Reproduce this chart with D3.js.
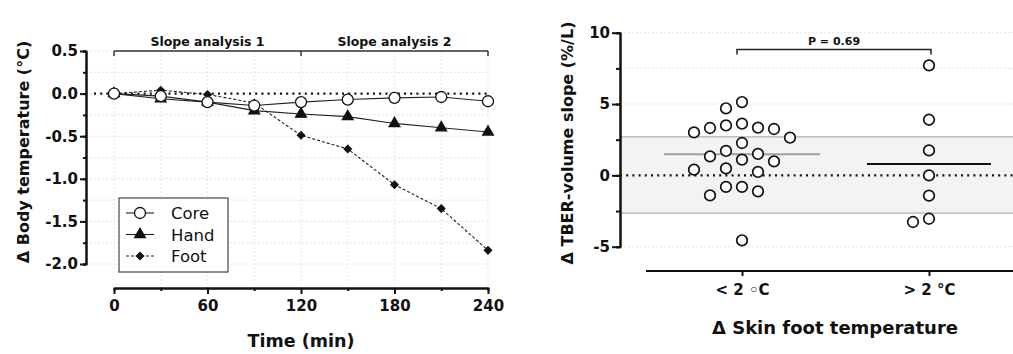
<!DOCTYPE html>
<meta charset="utf-8">
<style>
  body { margin: 0; background: #fff; }
  svg text { font-family: "DejaVu Sans", "Liberation Sans", Arial, sans-serif; fill: #111; }
  .axis path, .axis line { stroke: #111; stroke-width: 2px; }
  .axis text { font-weight: bold; font-size: 15px; }
  .grid line { stroke: #e4e4e4; stroke-width: 1px; stroke-dasharray: 2,2; }
</style>
<body>
<svg id="fig" width="1013" height="354"></svg>
<script src="https://cdn.jsdelivr.net/npm/d3@7"></script>
<script>
// ---- left panel data
var times = [0, 30, 60, 90, 120, 150, 180, 210, 240];
var core = [0, -0.03, -0.1, -0.14, -0.1, -0.07, -0.05, -0.04, -0.09];
var hand = [0, -0.06, -0.1, -0.2, -0.24, -0.27, -0.35, -0.4, -0.45];
var foot = [0, 0.04, -0.01, -0.11, -0.49, -0.65, -1.07, -1.35, -1.84];
var seriesNames = ["Core", "Hand", "Foot"];
var timeTicks = [0, 60, 120, 180, 240];
var tempTicks = [0.5, 0, -0.5, -1, -1.5, -2];
var slopePeriods = [[0, 120], [120, 240]];
var slopeLabels = ["Slope analysis 1", "Slope analysis 2"];

// ---- right panel data
var groups = ["< 2 \u25E6C", "> 2 \u00B0C"];
var slopeLow = [5.14, 4.7, 3.62, 3.5, 3.34, 3.32, 3.25, 3.01, 2.64, 2.27, 1.71, 1.5,
                1.33, 1.1, 0.98, 0.49, 0.4, 0.24, -0.81, -0.81, -1.12, -1.4, -4.55];
var slopeHigh = [7.71, 3.9, 1.75, 0, -1.42, -3.04, -3.27];
var slopeTicks = [-5, 0, 5, 10];
var bandLimits = [-2.65, 2.7];
var pLabel = "P = 0.69";

var svg = d3.select("#fig");

// =================== LEFT PANEL ===================
var x = d3.scaleLinear().domain([0, 240]).range([114, 488]);
var y = d3.scaleLinear().domain([-2, 0.5]).range([264, 51]);
var L = svg.append("g");

// grid
var grid = L.append("g").attr("class", "grid");
grid.selectAll(".gv").data(d3.range(0, 241, 30)).enter().append("line")
    .attr("x1", d => x(d)).attr("x2", d => x(d)).attr("y1", y(0.5)).attr("y2", 286);
grid.selectAll(".gh").data(d3.range(-2, 0.51, 0.25)).enter().append("line")
    .attr("x1", 86).attr("x2", x(240)).attr("y1", d => y(d)).attr("y2", d => y(d));

// zero reference
L.append("line").attr("x1", 94).attr("x2", x(240)).attr("y1", y(0)).attr("y2", y(0))
    .attr("stroke", "#111").attr("stroke-width", 2.2).attr("stroke-dasharray", "2,4.2");

// axes
L.append("g").attr("class", "axis").attr("transform", "translate(86,0)")
    .call(d3.axisLeft(y).tickValues(d3.range(-2, 0.51, 0.25)).tickSize(3).tickFormat(""));
L.append("g").attr("class", "axis").attr("transform", "translate(86,0)")
    .call(d3.axisLeft(y).tickValues(tempTicks).tickSize(6).tickSizeOuter(0).tickPadding(2)
      .tickFormat(d => d.toFixed(1)));
L.append("g").attr("class", "axis").attr("transform", "translate(0,288)")
    .call(d3.axisBottom(x).tickValues([30, 90, 150, 210]).tickSize(3).tickFormat(""));
L.append("g").attr("class", "axis").attr("transform", "translate(0,288)")
    .call(d3.axisBottom(x).tickValues(timeTicks).tickSize(6).tickSizeOuter(0).tickPadding(6));

L.append("text").attr("x", 301).attr("y", 347).attr("text-anchor", "middle")
    .attr("font-weight", "bold").attr("font-size", 17.5).text("Time (min)");
L.append("text").attr("transform", "translate(29,152) rotate(-90)").attr("text-anchor", "middle")
    .attr("font-weight", "bold").attr("font-size", 16).text("\u0394 Body temperature (\u00B0C)");

// slope analysis brackets
var by = y(0.5);
L.append("line").attr("x1", x(0)).attr("x2", x(240)).attr("y1", by).attr("y2", by)
    .attr("stroke", "#333").attr("stroke-width", 1.5);
L.selectAll(".bt").data([0, 120, 240]).enter().append("line")
    .attr("x1", d => x(d)).attr("x2", d => x(d)).attr("y1", by).attr("y2", by + 5)
    .attr("stroke", "#333").attr("stroke-width", 1.5);
L.selectAll(".bl").data(slopePeriods).enter().append("text")
    .attr("x", d => x((d[0] + d[1]) / 2)).attr("y", by - 5).attr("text-anchor", "middle")
    .attr("font-weight", "bold").attr("font-size", 12.5).text((d, i) => slopeLabels[i]);

// series
var series = [
  { name: seriesNames[2], vals: foot, dash: "3,2", sym: d3.symbolSquare, size: 26, rot: 45, fill: "#111" },
  { name: seriesNames[1], vals: hand, dash: null, sym: d3.symbolTriangle, size: 50, rot: 0, fill: "#111" },
  { name: seriesNames[0], vals: core, dash: null, sym: d3.symbolCircle, size: 95, rot: 0, fill: "#fff" }
];
var line = d3.line().x((d, i) => x(times[i])).y(d => y(d));
series.forEach(function(s) {
  L.append("path").datum(s.vals).attr("d", line).attr("fill", "none")
      .attr("stroke", "#222").attr("stroke-width", 1.1).attr("stroke-dasharray", s.dash);
  L.selectAll(null).data(s.vals).enter().append("path")
      .attr("d", d3.symbol().type(s.sym).size(s.size))
      .attr("transform", (d, i) => "translate(" + x(times[i]) + "," + y(d) + ") rotate(" + s.rot + ")")
      .attr("fill", s.fill).attr("stroke", "#111").attr("stroke-width", 1.3);
});

// legend
var lg = L.append("g").attr("transform", "translate(119,198)");
lg.append("rect").attr("width", 109).attr("height", 74).attr("fill", "#fff")
    .attr("stroke", "#444").attr("stroke-width", 1.2);
var legendOrder = series.slice().reverse();
legendOrder.forEach(function(s, i) {
  var ly = 15 + i * 21.5;
  lg.append("line").attr("x1", 7).attr("x2", 35).attr("y1", ly).attr("y2", ly)
      .attr("stroke", "#222").attr("stroke-width", 1.1).attr("stroke-dasharray", s.dash);
  lg.append("path").attr("d", d3.symbol().type(s.sym).size(s.size))
      .attr("transform", "translate(21," + ly + ") rotate(" + s.rot + ")")
      .attr("fill", s.fill).attr("stroke", "#111").attr("stroke-width", 1.3);
  lg.append("text").attr("x", 52).attr("y", ly + 6).attr("font-size", 16.5).text(s.name);
});

// =================== RIGHT PANEL ===================
var ys = d3.scaleLinear().domain([-5, 10]).range([246.7, 32.7]);
var xs = d3.scalePoint().domain(groups).range([742, 929]);
var R = svg.append("g");
var rightEdge = 1013;

// grid
var rgrid = R.append("g").attr("class", "grid");
rgrid.selectAll("line").data([10, 7.5, 5, -5]).enter().append("line")
    .attr("x1", 620).attr("x2", rightEdge).attr("y1", d => ys(d)).attr("y2", d => ys(d));

// reference band
R.append("rect").attr("x", 620).attr("width", rightEdge - 620)
    .attr("y", ys(bandLimits[1])).attr("height", ys(bandLimits[0]) - ys(bandLimits[1]))
    .attr("fill", "#f3f3f3");
R.selectAll(".bandEdge").data(bandLimits).enter().append("line")
    .attr("x1", 620).attr("x2", rightEdge).attr("y1", d => ys(d)).attr("y2", d => ys(d))
    .attr("stroke", "#c4c4c4").attr("stroke-width", 1.6);

R.append("line").attr("x1", 620).attr("x2", rightEdge).attr("y1", ys(0)).attr("y2", ys(0))
    .attr("stroke", "#111").attr("stroke-width", 2.2).attr("stroke-dasharray", "2,4.2");

// axes
R.append("g").attr("class", "axis").attr("transform", "translate(620,0)")
    .call(d3.axisLeft(ys).tickValues(d3.range(-5, 10.1, 2.5)).tickSize(4).tickFormat(""));
R.append("g").attr("class", "axis").attr("transform", "translate(620,0)")
    .call(d3.axisLeft(ys).tickValues(slopeTicks).tickSize(8).tickSizeOuter(0).tickPadding(2)
      .tickFormat(d => String(d)))
    .selectAll("text").attr("font-size", 16);
R.append("line").attr("x1", 646).attr("x2", rightEdge).attr("y1", 271).attr("y2", 271)
    .attr("stroke", "#111").attr("stroke-width", 2);
var xa = R.append("g").attr("class", "axis").attr("transform", "translate(0,271)")
    .call(d3.axisBottom(xs).tickSize(5).tickSizeOuter(0).tickPadding(8));
xa.select(".domain").remove();
xa.selectAll("text").attr("font-size", 16);

R.append("text").attr("x", 835).attr("y", 334).attr("text-anchor", "middle")
    .attr("font-weight", "bold").attr("font-size", 18).text("\u0394 Skin foot temperature");
R.append("text").attr("transform", "translate(573,143) rotate(-90)").attr("text-anchor", "middle")
    .attr("font-weight", "bold").attr("font-size", 16).text("\u0394 TBER-volume slope (%/L)");

// beeswarm placement (greedy, pixel space)
function swarm(vals, cx) {
  var placed = [];
  var order = vals.map((v, i) => i).sort((a, b) => vals[b] - vals[a]);
  var minD = 16, step = 8;
  order.forEach(function(i) {
    var py = ys(vals[i]);
    for (var k = 0; k < 40; k++) {
      var off = (k === 0) ? 0 : (k % 2 ? -1 : 1) * Math.ceil(k / 2) * step;
      var ok = placed.every(p => Math.hypot(p.x - (cx + off), p.y - py) >= minD);
      if (ok) { placed.push({ x: cx + off, y: py }); break; }
    }
  });
  return placed;
}
var groupVals = [slopeLow, slopeHigh];
var meanStyle = [{ half: 78, color: "#a0a0a0" }, { half: 62, color: "#111" }];
groupVals.forEach(function(vals, gi) {
  var cx = xs(groups[gi]);
  var m = d3.mean(vals);
  R.append("line").attr("x1", cx - meanStyle[gi].half).attr("x2", cx + meanStyle[gi].half)
      .attr("y1", ys(m)).attr("y2", ys(m))
      .attr("stroke", meanStyle[gi].color).attr("stroke-width", 2);
  R.selectAll(null).data(swarm(vals, cx)).enter().append("circle")
      .attr("cx", d => d.x).attr("cy", d => d.y).attr("r", 5.3)
      .attr("fill", "#fff").attr("stroke", "#111").attr("stroke-width", 1.7);
});

// significance bracket
var x1 = xs(groups[0]) - 5, x2 = xs(groups[1]) + 2, pb = 49.5;
R.append("path").attr("d", "M" + x1 + "," + (pb + 5) + "V" + pb + "H" + x2 + "V" + (pb + 5))
    .attr("fill", "none").attr("stroke", "#222").attr("stroke-width", 1.5);
R.append("text").attr("x", (x1 + x2) / 2).attr("y", pb - 5).attr("text-anchor", "middle")
    .attr("font-weight", "bold").attr("font-size", 11).text(pLabel);
</script>
</body>
